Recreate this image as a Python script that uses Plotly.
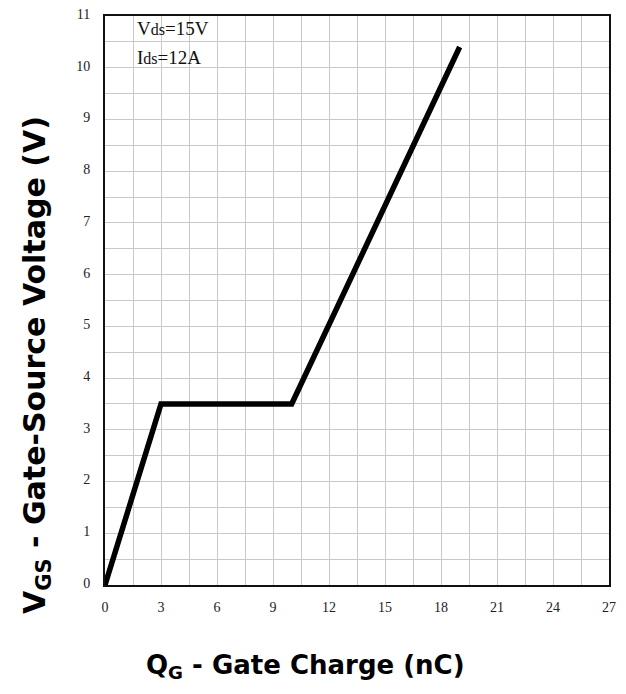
import plotly.graph_objects as go

# Data
qg_nc = [0, 3, 10, 19]
vgs_v = [0, 3.5, 3.5, 10.4]
x_ticks = [0, 3, 6, 9, 12, 15, 18, 21, 24, 27]
y_ticks = [0, 1, 2, 3, 4, 5, 6, 7, 8, 9, 10, 11]

fig = go.Figure()
fig.add_trace(go.Scatter(x=qg_nc, y=vgs_v, mode="lines",
                         line=dict(color="black", width=5.5), showlegend=False))

tick_font = dict(family="Liberation Serif, DejaVu Serif, serif", size=14, color="#222")
grid_col = "#c8c8c8"

# plot area in screen px (page has an 8px body margin)
PL, PR, PT, PB = 105, 609, 16, 585
PW, PH = PR - PL, PB - PT

fig.update_layout(
    width=610, height=678,
    margin=dict(l=97, r=9, t=8, b=101),
    paper_bgcolor="white", plot_bgcolor="white",
    xaxis=dict(range=[0, 27], tickvals=x_ticks, ticktext=[str(v) for v in x_ticks],
               showgrid=True, gridcolor=grid_col, gridwidth=1,
               minor=dict(dtick=1.5, tick0=0, showgrid=True, gridcolor=grid_col, gridwidth=1),
               showline=True, linecolor="#111", linewidth=2, mirror=True, automargin=False,
               ticklabeloverflow="allow",
               ticks="", ticklabelstandoff=8, tickfont=tick_font, zeroline=False),
    yaxis=dict(range=[0, 11], tickvals=y_ticks, ticktext=[str(v) for v in y_ticks],
               showgrid=True, gridcolor=grid_col, gridwidth=1,
               minor=dict(dtick=0.5, tick0=0, showgrid=True, gridcolor=grid_col, gridwidth=1),
               showline=True, linecolor="#111", linewidth=2, mirror=True, automargin=False,
               ticklabeloverflow="allow", ticklabelshift=-2,
               ticks="", ticklabelstandoff=10, tickfont=tick_font, zeroline=False),
)

fig.add_annotation(text="<b>Q<sub>G</sub> - Gate Charge (nC)</b>", xref="paper", yref="paper",
                   x=(305 - PL) / PW, y=-(666 - PB) / PH, showarrow=False,
                   font=dict(family="DejaVu Sans, sans-serif", size=26, color="black"),
                   xanchor="center", yanchor="middle")
fig.add_annotation(text="<b>V<sub>GS</sub> - Gate-Source Voltage (V)</b>", xref="paper", yref="paper",
                   x=-(PL - 36) / PW, y=(PB - 365) / PH, showarrow=False, textangle=-90,
                   font=dict(family="DejaVu Sans, sans-serif", size=30, color="black"),
                   xanchor="center", yanchor="middle")

note_font = dict(family="Liberation Serif, DejaVu Serif, serif", size=19, color="#111")
fig.add_annotation(text="V<span style='font-size:16px'>ds</span>=15V", xref="paper", yref="paper",
                   x=(135 - PL) / PW, y=(PB - 29) / PH, showarrow=False,
                   font=note_font, xanchor="left", yanchor="middle")
fig.add_annotation(text="I<span style='font-size:16px'>ds</span>=12A", xref="paper", yref="paper",
                   x=(135 - PL) / PW, y=(PB - 57) / PH, showarrow=False,
                   font=note_font, xanchor="left", yanchor="middle")

fig.write_html("out.html")
